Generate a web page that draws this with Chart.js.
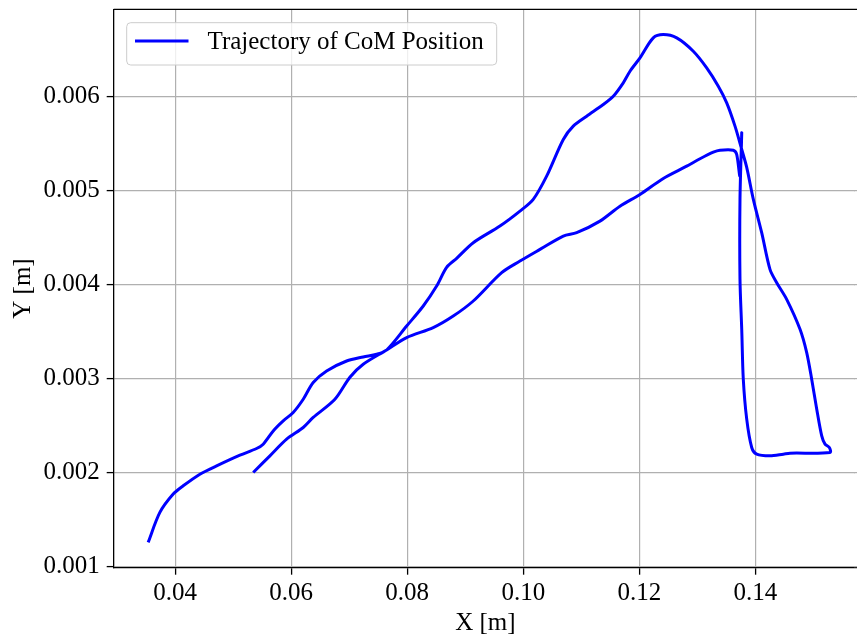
<!DOCTYPE html>
<html>
<head>
<meta charset="utf-8">
<script src="https://cdn.jsdelivr.net/npm/chart.js@4"></script>
<style>
html, body { margin: 0; padding: 0; background: #fff; overflow: hidden; }
#wrap { width: 857px; height: 638px; overflow: hidden; }
#com { display: block; }
</style>
</head>
<body>
<div id="wrap"><canvas id="com" width="857" height="638"></canvas></div>
<script>
var seriesLabel = 'Trajectory of CoM Position';

// CoM trajectory (metres)
var comX = [
  0.03534, 0.03736, 0.03966, 0.04138, 0.04426, 0.04714, 0.05116, 0.05403, 0.05517, 0.05690,
  0.05862, 0.06034, 0.06207, 0.06379, 0.06610, 0.06955, 0.07241, 0.07472, 0.07645, 0.07990,
  0.08276, 0.08507, 0.08679, 0.08852, 0.09138, 0.09598, 0.09943, 0.10172, 0.10403, 0.10690,
  0.10862, 0.11093, 0.11379, 0.11552, 0.11724, 0.11840, 0.12012, 0.12241, 0.12414, 0.12645,
  0.12931, 0.13162, 0.13362, 0.13507, 0.13650, 0.13766, 0.13852, 0.13966, 0.14110, 0.14253,
  0.14369, 0.14541, 0.14771, 0.14886, 0.14972, 0.15059, 0.15145, 0.15202, 0.15276, 0.15288,
  0.14598, 0.14483, 0.14253, 0.14024, 0.13938, 0.13852, 0.13793, 0.13766, 0.13736, 0.13736,
  0.13766, 0.13736, 0.13679, 0.13621, 0.13391, 0.13276, 0.13047, 0.12817, 0.12414, 0.12012,
  0.11667, 0.11322, 0.10921, 0.10690, 0.10288, 0.09943, 0.09628, 0.09138, 0.08793, 0.08448,
  0.07990, 0.07645, 0.07241, 0.07012, 0.06753, 0.06379, 0.06207, 0.05921, 0.05633, 0.05345
];
var comY = [
  0.001259, 0.001578, 0.001773, 0.001861, 0.001985, 0.002073, 0.002187, 0.002258, 0.002304, 0.002445,
  0.002552, 0.002641, 0.002782, 0.002960, 0.003083, 0.003189, 0.003232, 0.003260, 0.003306, 0.003561,
  0.003774, 0.003986, 0.004185, 0.004281, 0.004447, 0.004624, 0.004783, 0.004908, 0.005155, 0.005545,
  0.005687, 0.005793, 0.005917, 0.006005, 0.006148, 0.006271, 0.006413, 0.006626, 0.006661, 0.006626,
  0.006484, 0.006307, 0.006112, 0.005935, 0.005687, 0.005439, 0.005248, 0.004908, 0.004554, 0.004164,
  0.004022, 0.003845, 0.003526, 0.003278, 0.002995, 0.002676, 0.002392, 0.002304, 0.002269, 0.002216,
  0.002208, 0.002198, 0.002180, 0.002198, 0.002269, 0.002570, 0.002995, 0.003526, 0.004057, 0.004908,
  0.005616, 0.005155, 0.005386, 0.005431, 0.005431, 0.005410, 0.005340, 0.005261, 0.005131, 0.004961,
  0.004836, 0.004677, 0.004554, 0.004518, 0.004376, 0.004252, 0.004129, 0.003827, 0.003667, 0.003544,
  0.003438, 0.003306, 0.003154, 0.003016, 0.002782, 0.002588, 0.002481, 0.002357, 0.002180, 0.002003
];

var xTicks = [0.04, 0.06, 0.08, 0.10, 0.12, 0.14];
var yTicks = [0.001, 0.002, 0.003, 0.004, 0.005, 0.006];

var points = comX.map(function (x, i) { return {x: x, y: comY[i]}; });

Chart.defaults.font.family = "'Liberation Serif', 'Times New Roman', serif";
Chart.defaults.font.size = 25;
Chart.defaults.color = '#000';

// top spine + legend box; the original is cut off on the right, so no right spine
var framePlugin = {
  id: 'frame',
  afterDraw: function (chart) {
    var ctx = chart.ctx;
    var a = chart.chartArea;
    var yScale = chart.scales.y;
    ctx.save();

    // wipe the edge line chart.js leaves at chartArea.right, put the grid ends back
    ctx.fillStyle = '#fff';
    ctx.fillRect(a.right - 2, a.top + 1, chart.width - a.right + 2, a.bottom - a.top - 2);
    ctx.strokeStyle = '#b0b0b0';
    ctx.lineWidth = 1.2;
    yTicks.forEach(function (v) {
      var py = Math.round(yScale.getPixelForValue(v) - 0.6) + 0.6;
      ctx.beginPath();
      ctx.moveTo(a.right - 3, py);
      ctx.lineTo(chart.width, py);
      ctx.stroke();
    });

    ctx.strokeStyle = '#000';
    ctx.lineWidth = 1.3;
    ctx.beginPath();
    ctx.moveTo(a.left, a.top);
    ctx.lineTo(chart.width, a.top);
    ctx.stroke();

    // legend
    var lx = 126.7, ly = 22.7, lw = 370, lh = 42.3, r = 4;
    ctx.beginPath();
    ctx.roundRect(lx, ly, lw, lh, r);
    ctx.fillStyle = 'rgba(255,255,255,0.8)';
    ctx.fill();
    ctx.strokeStyle = '#cccccc';
    ctx.lineWidth = 1;
    ctx.stroke();

    var ds = chart.data.datasets[0];
    ctx.beginPath();
    ctx.moveTo(135, 41);
    ctx.lineTo(188.5, 41);
    ctx.strokeStyle = ds.borderColor;
    ctx.lineWidth = ds.borderWidth;
    ctx.stroke();

    ctx.fillStyle = '#000';
    ctx.font = "25px 'Liberation Serif', 'Times New Roman', serif";
    ctx.textBaseline = 'middle';
    ctx.textAlign = 'left';
    ctx.fillText(ds.label, 207.5, 42);
    ctx.restore();
  }
};

// drop the label overflow padding chart.js adds at the axis ends
function noEdgePadding(axis) {
  axis.paddingTop = 0;
  axis.paddingBottom = 0;
  axis.paddingLeft = 0;
  axis.paddingRight = 0;
}

const ctx = document.getElementById('com').getContext('2d');

const comChart = new Chart(ctx, {
  type: 'scatter',
  data: {
    datasets: [{
      label: seriesLabel,
      data: points,
      showLine: true,
      borderColor: '#0000ff',
      borderWidth: 3,
      pointRadius: 0,
      tension: 0.3,
      borderJoinStyle: 'round',
      borderCapStyle: 'butt'
    }]
  },
  options: {
    responsive: false,
    animation: false,
    layout: {
      padding: {left: 8, top: 9.3, right: 0, bottom: 0}
    },
    plugins: {
      legend: {display: false},
      tooltip: {enabled: false}
    },
    scales: {
      x: {
        type: 'linear',
        min: 0.0294,
        max: 0.15753,
        afterBuildTicks: function (axis) {
          axis.ticks = xTicks.map(function (v) { return {value: v}; });
        },
        afterFit: function (axis) { axis.height = 70.3; noEdgePadding(axis); },
        ticks: {
          padding: 4,
          maxRotation: 0,
          autoSkip: false,
          callback: function (v) { return v.toFixed(2); }
        },
        grid: {
          color: '#b0b0b0',
          lineWidth: 1.2,
          tickColor: '#000',
          tickWidth: 1.3,
          tickLength: 7
        },
        border: {color: '#000', width: 1.3},
        title: {display: true, text: 'X [m]', padding: 0}
      },
      y: {
        type: 'linear',
        min: 0.00099,
        max: 0.00693,
        afterBuildTicks: function (axis) {
          axis.ticks = yTicks.map(function (v) { return {value: v}; });
        },
        afterFit: function (axis) { axis.width = 105.7; noEdgePadding(axis); },
        ticks: {
          padding: 7,
          autoSkip: false,
          callback: function (v) { return v.toFixed(3); }
        },
        grid: {
          color: '#b0b0b0',
          lineWidth: 1.2,
          tickColor: '#000',
          tickWidth: 1.3,
          tickLength: 7
        },
        border: {color: '#000', width: 1.3},
        title: {display: true, text: 'Y [m]', padding: 0}
      }
    }
  },
  plugins: [framePlugin]
});
</script>
</body>
</html>
